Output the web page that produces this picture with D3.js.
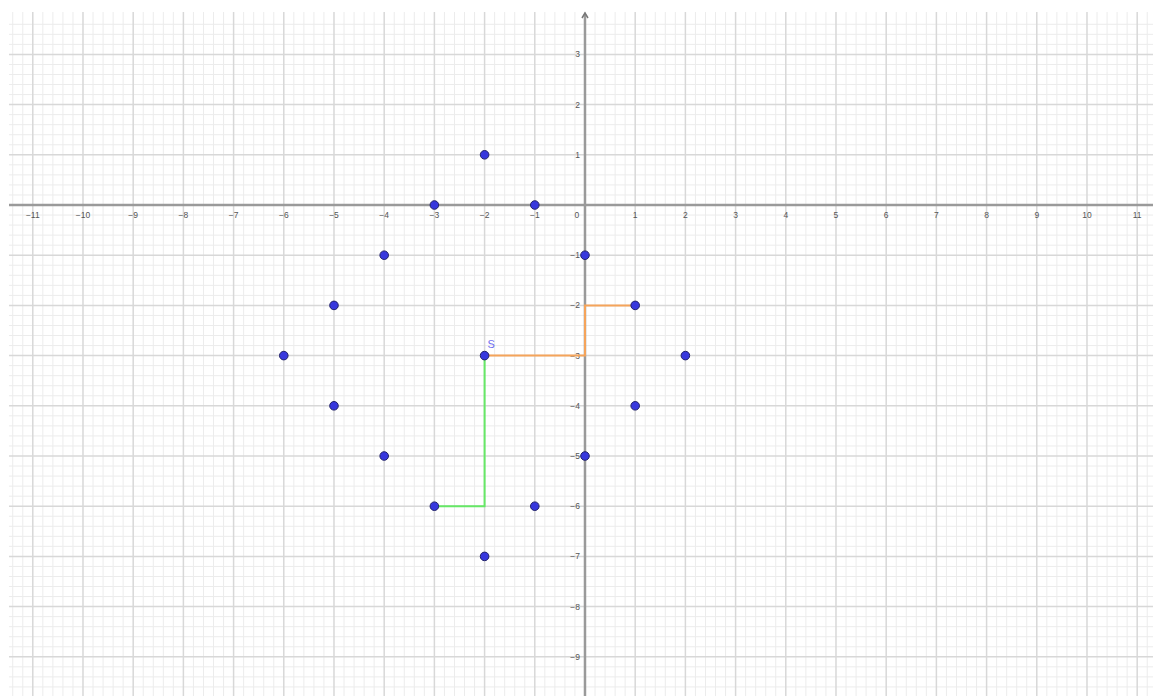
<!DOCTYPE html>
<html>
  <head>
    <meta charset="utf-8">
    <title>Grid points</title>
    <script src="https://cdn.jsdelivr.net/npm/d3@7"></script>
    <style>
      body { margin: 0; background: #fff; }
      text { font-family: "Liberation Sans", Arial, sans-serif; }
    </style>
  </head>
  <body>
    <svg id="chart"></svg>
    <script>
// points (x, y) in graph units
var pointX = [-2, -3, -1, 0, -4, -5, 1, -6, -2, 2, -5, 1, -4, 0, -3, -1, -2];
var pointY = [1, 0, 0, -1, -1, -2, -2, -3, -3, -3, -4, -4, -5, -5, -6, -6, -7];

// orange path from S going right/up
var orangeX = [-2, 0, 0, 1];
var orangeY = [-3, -3, -2, -2];

// green path from S going down/left
var greenX = [-2, -2, -3];
var greenY = [-3, -6, -6];

var labelName = "S";
var labelAt = [-2, -3];

var xTicks = d3.range(-11, 12);
var yTicks = d3.range(-9, 4);

var W = 1153, H = 696;
var plotLeft = 9, plotTop = 12;

// one unit ~50.2px, origin at (585, 205)
var x = d3.scaleLinear().domain([-11.474, 11.315]).range([plotLeft, W]);
var y = d3.scaleLinear().domain([3.845, -9.781]).range([plotTop, H]);

var svg = d3.select("#chart").attr("width", W).attr("height", H);

// minor grid (every 0.2)
var minorX = d3.range(-11.4, 11.4, 0.2).filter(function(v) { return Math.abs(v - Math.round(v)) > 1e-6; });
var minorY = d3.range(-9.8, 3.8, 0.2).filter(function(v) { return Math.abs(v - Math.round(v)) > 1e-6; });

var grid = svg.append("g");
grid.selectAll(".mx").data(minorX).enter().append("line")
    .attr("x1", function(d) { return x(d); }).attr("x2", function(d) { return x(d); })
    .attr("y1", plotTop).attr("y2", H)
    .attr("stroke", "#ececec").attr("stroke-width", 1);
grid.selectAll(".my").data(minorY).enter().append("line")
    .attr("y1", function(d) { return y(d); }).attr("y2", function(d) { return y(d); })
    .attr("x1", plotLeft).attr("x2", W)
    .attr("stroke", "#ececec").attr("stroke-width", 1);

// major grid
grid.selectAll(".Mx").data(xTicks).enter().append("line")
    .attr("x1", function(d) { return x(d); }).attr("x2", function(d) { return x(d); })
    .attr("y1", plotTop).attr("y2", H)
    .attr("stroke", "#d8d8d8").attr("stroke-width", 1.5);
grid.selectAll(".My").data(yTicks).enter().append("line")
    .attr("y1", function(d) { return y(d); }).attr("y2", function(d) { return y(d); })
    .attr("x1", plotLeft).attr("x2", W)
    .attr("stroke", "#d8d8d8").attr("stroke-width", 1.5);

// axes
svg.append("line")
    .attr("x1", plotLeft).attr("x2", W).attr("y1", y(0)).attr("y2", y(0))
    .attr("stroke", "#9a9a9a").attr("stroke-width", 2.5);
svg.append("line")
    .attr("x1", x(0)).attr("x2", x(0)).attr("y1", plotTop + 2).attr("y2", H)
    .attr("stroke", "#9a9a9a").attr("stroke-width", 2.5);
svg.append("path")
    .attr("d", "M" + (x(0) - 3) + "," + (plotTop + 6) + "L" + x(0) + "," + (plotTop + 1) + "L" + (x(0) + 3) + "," + (plotTop + 6))
    .attr("fill", "none").attr("stroke", "#777").attr("stroke-width", 1.5);

// tick labels
var fmt = function(d) { return d < 0 ? "\u2212" + (-d) : "" + d; };
svg.selectAll(".xl").data(xTicks).enter().append("text")
    .attr("x", function(d) { return d === 0 ? x(d) - 8 : x(d); })
    .attr("y", y(0) + 13)
    .attr("text-anchor", "middle")
    .attr("font-size", 8.5).attr("fill", "#555")
    .text(fmt);
svg.selectAll(".yl").data(yTicks.filter(function(d) { return d !== 0; })).enter().append("text")
    .attr("x", x(0) - 5)
    .attr("y", function(d) { return y(d) + 3; })
    .attr("text-anchor", "end")
    .attr("font-size", 8.5).attr("fill", "#555")
    .text(fmt);

// paths
var line = d3.line().x(function(d) { return x(d[0]); }).y(function(d) { return y(d[1]); });
svg.append("path")
    .attr("d", line(d3.zip(orangeX, orangeY)))
    .attr("fill", "none").attr("stroke", "#f5a45a").attr("stroke-width", 2);
svg.append("path")
    .attr("d", line(d3.zip(greenX, greenY)))
    .attr("fill", "none").attr("stroke", "#66e866").attr("stroke-width", 2);

// points
svg.selectAll(".pt").data(d3.zip(pointX, pointY)).enter().append("circle")
    .attr("cx", function(d) { return x(d[0]); })
    .attr("cy", function(d) { return y(d[1]); })
    .attr("r", 4.3)
    .attr("fill", "#3838dd")
    .attr("stroke", "#23236a").attr("stroke-width", 1);

// label S
svg.append("text")
    .attr("x", x(labelAt[0]) + 3)
    .attr("y", y(labelAt[1]) - 8)
    .attr("font-size", 11).attr("fill", "#6f6ff0")
    .text(labelName);
    </script>
  </body>
</html>
